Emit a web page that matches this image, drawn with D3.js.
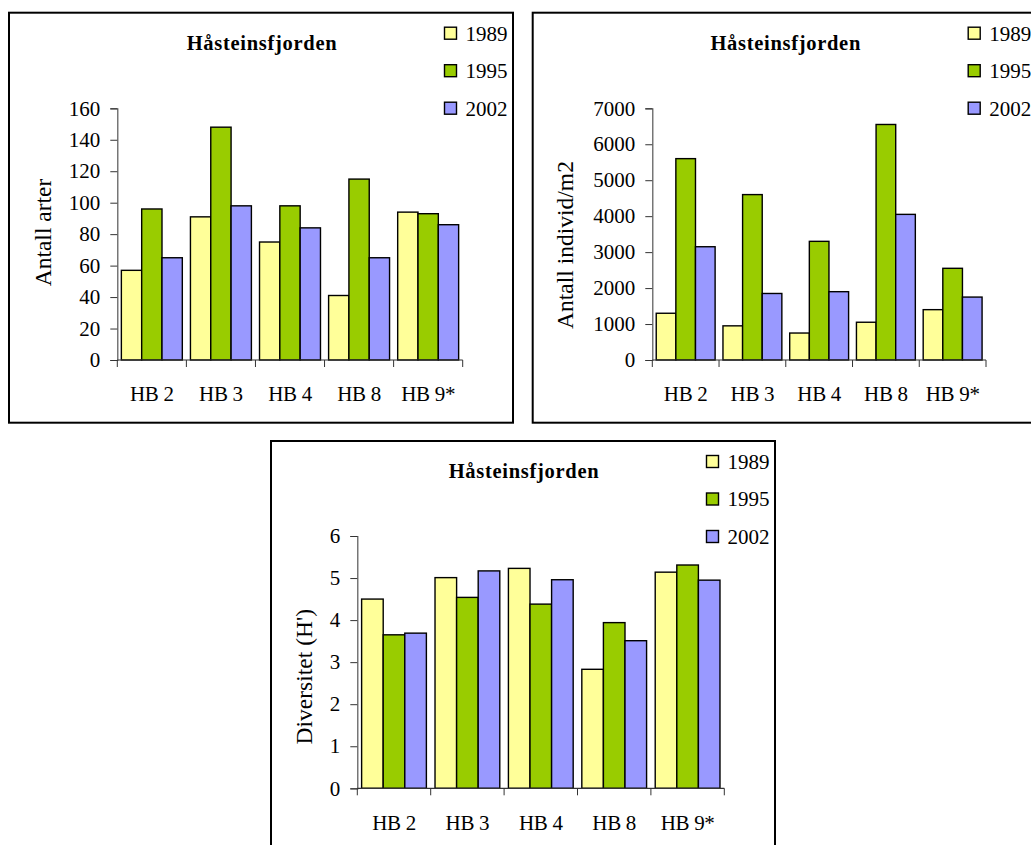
<!DOCTYPE html>
<html>
<head>
<meta charset="utf-8">
<script src="https://cdn.jsdelivr.net/npm/d3@7"></script>
<style>
  html, body { margin: 0; padding: 0; background: #fff; }
  svg { display: block; }
  text { font-family: "Liberation Serif", "Times New Roman", serif; fill: #000; }
</style>
</head>
<body>
<svg id="chart" width="1031" height="845"></svg>
<script>
// Stations and survey years
const categories = ["HB 2", "HB 3", "HB 4", "HB 8", "HB 9*"];
const years = ["1989", "1995", "2002"];

// Antall arter (number of species)
const arter1989 = [57, 91, 75, 41, 94];
const arter1995 = [96, 148, 98, 115, 93];
const arter2002 = [65, 98, 84, 65, 86];
const arterTicks = [0, 20, 40, 60, 80, 100, 120, 140, 160];

// Antall individ/m2 (abundance)
const individ1989 = [1300, 950, 750, 1050, 1400];
const individ1995 = [5600, 4600, 3300, 6550, 2550];
const individ2002 = [3150, 1850, 1900, 4050, 1750];
const individTicks = [0, 1000, 2000, 3000, 4000, 5000, 6000, 7000];

// Diversitet (H')
const div1989 = [4.50, 5.01, 5.23, 2.83, 5.14];
const div1995 = [3.65, 4.54, 4.38, 3.94, 5.31];
const div2002 = [3.69, 5.17, 4.96, 3.51, 4.95];
const divTicks = [0, 1, 2, 3, 4, 5, 6];

const yearColors = ["#FFFF99", "#99CC00", "#9999FF"];

const svg = d3.select("#chart");
svg.append("rect").attr("width", 1031).attr("height", 845).attr("fill", "#fff");

// Panel layout: frame origin, plot box and y-title placement
const panels = [
  { fx: 9, fy: 12.7, left: 117.3, right: 462.7, top: 108.3, bottom: 360,
    ytitle: "Antall arter", yTitleX: 50.5, yTitleY: 232.5,
    series: [arter1989, arter1995, arter2002], ticks: arterTicks },
  { fx: 532.7, fy: 12.7, left: 652.3, right: 986, top: 108.3, bottom: 360,
    ytitle: "Antall individ/m2", yTitleX: 573, yTitleY: 245,
    series: [individ1989, individ1995, individ2002], ticks: individTicks },
  { fx: 271, fy: 441, left: 357.3, right: 724.3, top: 536, bottom: 788.3,
    ytitle: "Diversitet (H')", yTitleX: 311.5, yTitleY: 676.7,
    series: [div1989, div1995, div2002], ticks: divTicks }
];

panels.forEach(p => {
  const g = svg.append("g");

  // Chart frame
  g.append("rect")
    .attr("x", p.fx).attr("y", p.fy)
    .attr("width", 504).attr("height", 410)
    .attr("fill", "#fff").attr("stroke", "#000").attr("stroke-width", 2);

  // Title
  g.append("text")
    .attr("x", p.fx + 253).attr("y", p.fy + 37.3)
    .attr("text-anchor", "middle")
    .attr("font-weight", "bold")
    .attr("font-size", 20.5)
    .attr("letter-spacing", 0.7)
    .text("Håsteinsfjorden");

  // Scales
  const x = d3.scaleBand().domain(categories).range([p.left, p.right]).padding(0);
  const xs = d3.scaleBand().domain(years).range([0, x.bandwidth()])
    .paddingInner(0).paddingOuter(0.2);
  const y = d3.scaleLinear()
    .domain([0, d3.max(p.ticks)])
    .range([p.bottom, p.top]);

  // Bars
  years.forEach((yr, si) => {
    g.append("g").selectAll("rect")
      .data(p.series[si])
      .join("rect")
      .attr("x", (d, i) => x(categories[i]) + xs(yr))
      .attr("y", d => y(d))
      .attr("width", xs.bandwidth())
      .attr("height", d => y(0) - y(d))
      .attr("fill", yearColors[si])
      .attr("stroke", "#000")
      .attr("stroke-width", 1.4);
  });

  // Y axis
  const yAxis = g.append("g")
    .attr("transform", `translate(${p.left},0)`)
    .call(d3.axisLeft(y).tickValues(p.ticks).tickSize(7).tickPadding(10).tickFormat(d3.format("d")));
  yAxis.select(".domain").attr("stroke", "#555").attr("stroke-width", 1.2);
  yAxis.selectAll(".tick line").attr("stroke", "#333").attr("stroke-width", 1);
  yAxis.selectAll(".tick text")
    .attr("font-family", "Liberation Serif, serif")
    .attr("font-size", 21)
    .attr("fill", "#000");

  // X axis: line with ticks at category boundaries
  g.append("line")
    .attr("x1", p.left).attr("x2", p.right)
    .attr("y1", p.bottom).attr("y2", p.bottom)
    .attr("stroke", "#333").attr("stroke-width", 1.2);
  const bounds = categories.map(c => x(c)).concat([p.right]);
  g.append("g").selectAll("line")
    .data(bounds)
    .join("line")
    .attr("x1", d => d).attr("x2", d => d)
    .attr("y1", p.bottom).attr("y2", p.bottom + 7)
    .attr("stroke", "#333").attr("stroke-width", 1);
  g.append("g").selectAll("text")
    .data(categories)
    .join("text")
    .attr("x", d => x(d) + x.bandwidth() / 2)
    .attr("y", p.bottom + 41.3)
    .attr("text-anchor", "middle")
    .attr("font-size", 21)
    .attr("letter-spacing", -0.3)
    .text(d => d);

  // Y-axis title
  g.append("text")
    .attr("transform", `translate(${p.yTitleX},${p.yTitleY}) rotate(-90)`)
    .attr("text-anchor", "middle")
    .attr("font-size", 23.5)
    .text(p.ytitle);

  // Legend
  const legend = g.append("g");
  years.forEach((yr, si) => {
    const cy = p.fy + 20.5 + si * 37.5;
    legend.append("rect")
      .attr("x", p.fx + 435.5).attr("y", cy - 6)
      .attr("width", 12).attr("height", 12)
      .attr("fill", yearColors[si])
      .attr("stroke", "#000").attr("stroke-width", 1.4);
    legend.append("text")
      .attr("x", p.fx + 456.5).attr("y", cy)
      .attr("dy", "0.35em")
      .attr("font-size", 21)
      .text(yr);
  });
});
</script>
</body>
</html>
